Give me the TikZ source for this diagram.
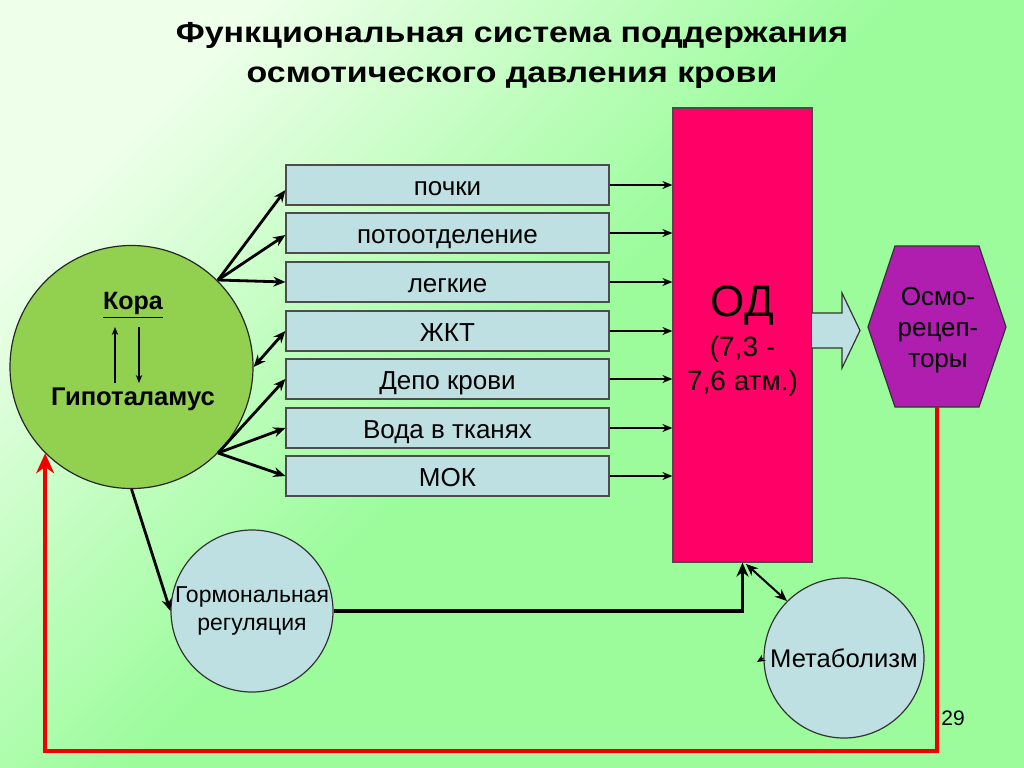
\documentclass[tikz,border=0pt]{standalone}
\usepackage{fontspec}
\setmainfont{Liberation Sans}
\usetikzlibrary{arrows.meta,calc}
\definecolor{bgg}{RGB}{156,252,156}
\definecolor{bgp}{RGB}{238,255,234}
\definecolor{boxc}{RGB}{190,224,226}
\definecolor{circg}{RGB}{146,208,80}
\definecolor{odc}{RGB}{255,0,102}
\definecolor{hexc}{RGB}{176,30,176}
\definecolor{redl}{RGB}{240,0,0}
\pgfdeclarehorizontalshading{bgshade}{100bp}{color(0bp)=(bgp); color(25bp)=(bgp); color(50bp)=(bgg); color(100bp)=(bgg)}
\begin{document}
\begin{tikzpicture}[x=0.5pt,y=-0.5pt,
  box/.style={draw=black!70, line width=0.6pt, fill=boxc, minimum width=161.5pt, minimum height=20pt, inner sep=0pt, text height=10.5pt, text depth=0pt, font=\fontsize{13}{15}\selectfont},
  thk/.style={line width=1.4pt, -{Stealth[length=6pt,width=5pt]}},
  thkd/.style={line width=1.4pt, {Stealth[length=6pt,width=5pt]}-{Stealth[length=6pt,width=5pt]}},
  thn/.style={line width=0.75pt, -{Stealth[length=5pt,width=4pt]}},
  inarr/.style={line width=0.6pt, -{Stealth[length=4pt,width=3.2pt]}},
  bub/.style={circle, draw=black!80, line width=0.6pt, fill=boxc, inner sep=0pt, align=center},
  ttl/.style={anchor=base, font=\bfseries\fontsize{14.5}{20}\selectfont}]
\shade[shading=bgshade, shading angle=-45] (0,0) rectangle (1024,767);
\useasboundingbox (0,0) rectangle (1024,767);

% title
\node[ttl] (t1) at (512,42) {\scalebox{1.17}[1]{Функциональная система поддержания}};
\node[ttl] (t2) at (512,82) {\scalebox{1.17}[1]{осмотического давления крови}};

% boxes
\foreach \n/\y/\t in {1/185/почки, 2/233/потоотделение, 3/282/легкие, 4/331/ЖКТ, 5/379/Депо крови, 6/428/Вода в тканях, 7/476/МОК}
  \node[box] (b\n) at (447.5,\y) {\t};

% OD
\node[draw=black!70, line width=0.6pt, fill=odc, minimum width=69.5pt, minimum height=227pt, inner sep=0pt] (od) at (742.5,335) {};
\node[font=\fontsize{22}{24}\selectfont] (odt) at (742.5,306) {ОД};
\node[font=\fontsize{14}{17}\selectfont, align=center] (odv) at (742.5,366) {(7,3 -\\7,6 атм.)};

% block arrow
\draw[fill=boxc, draw=black!80, line width=0.6pt] (812,313) -- (842,313) -- (842,293) -- (860,330.5) -- (842,368) -- (842,348) -- (812,348);

% hexagon
\coordinate (h1) at (895,246); \coordinate (h2) at (979,246); \coordinate (h3) at (1006,327);
\coordinate (h4) at (979,407); \coordinate (h5) at (895,407); \coordinate (h6) at (868,327);
\draw[fill=hexc, draw=black!80, line width=0.6pt] (h1) -- (h2) -- (h3) -- (h4) -- (h5) -- (h6) -- cycle;
\node[font=\fontsize{13}{15.5}\selectfont, align=center] (hex) at (938,330) {Осмо-\\рецеп-\\торы};
\coordinate (hb) at (937,407);

% big circle
\node[circle, draw=black!85, line width=0.6pt, fill=circg, minimum size=121.5pt, inner sep=0pt] (C) at (131.5,367) {};
\node[font=\bfseries\fontsize{12.5}{14}\selectfont] (kora) at (133,305) {\underline{Кора}};
\node[font=\bfseries\fontsize{12.8}{14}\selectfont] (gip) at (133,399) {Гипоталамус};
\coordinate (ua) at (115,383); \coordinate (ub) at (115,327);
\coordinate (da) at (139,327); \coordinate (db) at (139,383);
\draw[inarr] (ua) -- (ub);
\draw[inarr] (da) -- (db);

% bubbles
\node[bub, minimum size=81pt, font=\fontsize{11.5}{14}\selectfont] (H) at (252,611) {Гормональная\\регуляция};
\node[bub, minimum size=80pt, font=\fontsize{12.8}{14}\selectfont] (M) at (844,658) {Метаболизм};
\node[font=\fontsize{10.5}{12}\selectfont] (pg) at (953,718) {29};

% circle -> boxes
\coordinate (o1) at (218,280);
\coordinate (o2) at (218,453);
\draw[thk] (o1) -- ($(b1.west)+(0,5)$);
\draw[thk] (o1) -- ($(b2.west)+(0,2)$);
\draw[thk] (o1) -- (b3.west);
\draw[thkd] (C.east) -- (b4.west);
\draw[thk] (o2) -- (b5.west);
\draw[thk] (o2) -- (b6.west);
\draw[thk] (o2) -- (b7.west);

% boxes -> OD
\foreach \n in {1,...,7}
  \draw[thn] (b\n.east) -- (od.west |- b\n.east);

% hormonal path
\draw[thk] (C.south) -- (H.west);
\draw[line width=1.8pt, -{Stealth[length=7pt,width=6pt]}] (H.east) -| (od.south);
\coordinate (odb) at (746,564);
\draw[thkd, line width=1pt] (odb) -- (M.135);
\coordinate (mt) at (757,662);
\draw[line width=0.6pt, -{Stealth[length=4pt,width=3.5pt]}] (M.west) -- (mt);

% red feedback
\draw[redl, line width=2pt, -{Stealth[length=10pt,width=9pt]}] (hb) -- ($(hb)+(0,344)$) -| (C.225);
\end{tikzpicture}
\end{document}
